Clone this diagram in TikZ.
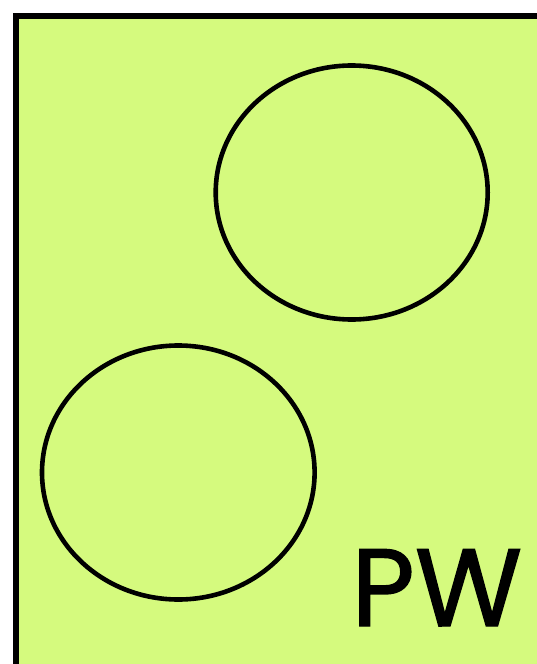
\documentclass[tikz,border=0pt]{standalone}
\usepackage{fontspec}
\newfontfamily\pwfont[FakeBold=1.2]{Poppins}
\definecolor{bggreen}{HTML}{D5FA7E}
\begin{document}
\begin{tikzpicture}[x=1pt,y=-1pt,
  frame/.style={draw=black,line width=6pt,fill=bggreen},
  blob/.style={draw=black,line width=4.6pt}]
\useasboundingbox (0,0) rectangle (537,664);
\clip (0,0) rectangle (537,664);
\fill[white] (0,0) rectangle (537,664);
\path[frame] (15.5,15.5) rectangle (560,690);
\draw[blob] (351.7,192.5) ellipse [x radius=136, y radius=127];
\draw[blob] (178.3,472.5) ellipse [x radius=136.3, y radius=127];
\node[anchor=base west,inner sep=0pt,font=\pwfont\fontsize{110}{110}\selectfont] (pw) at (351,626) {PW};
\end{tikzpicture}
\end{document}
